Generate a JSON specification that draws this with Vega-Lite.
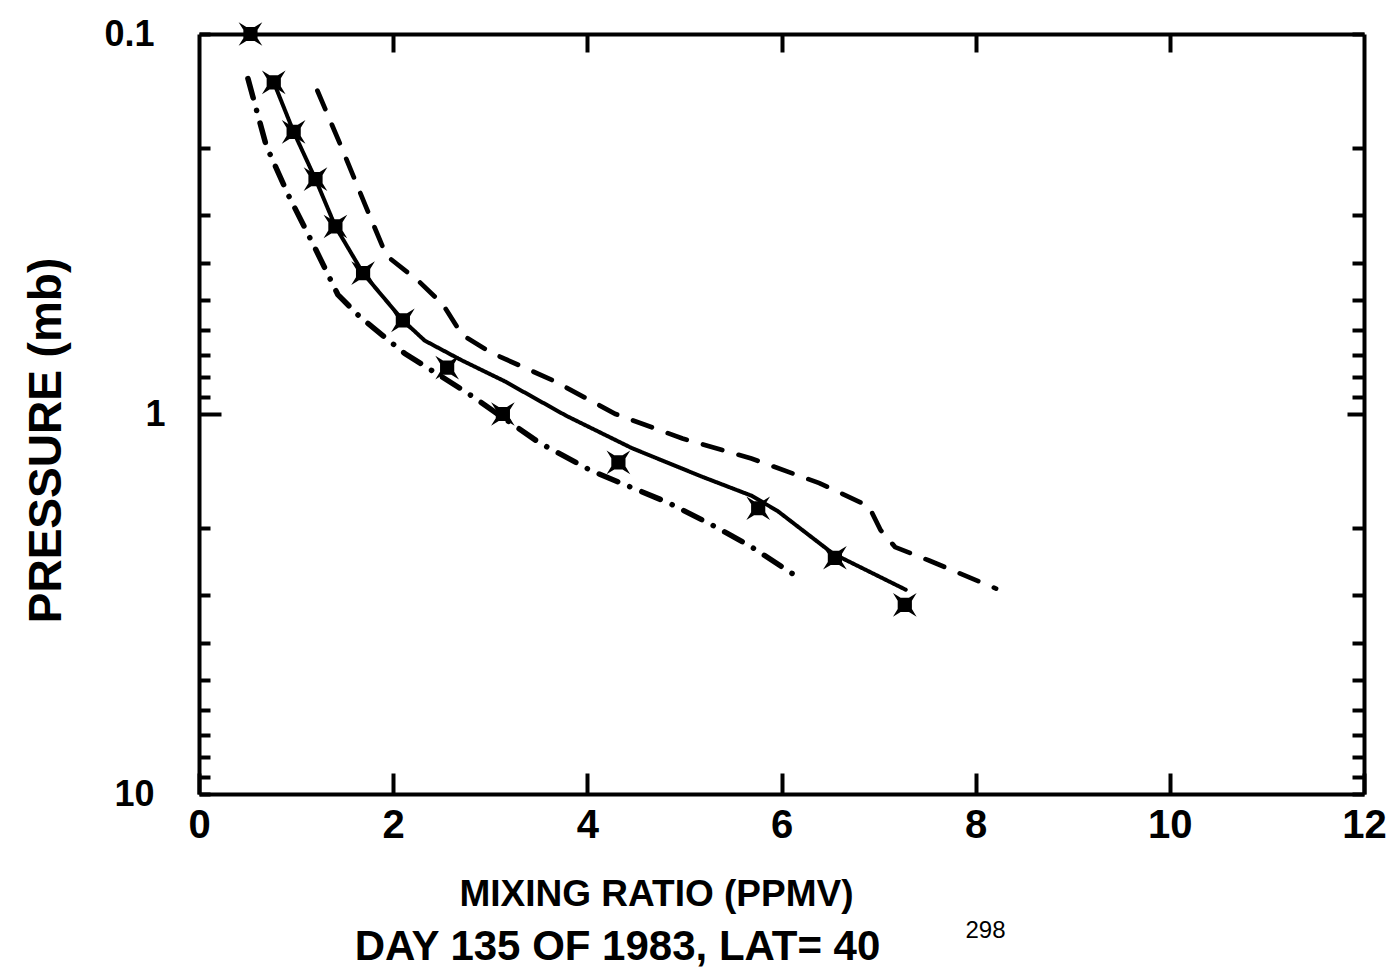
{
  "$schema": "https://vega.github.io/schema/vega-lite/v6.json",
  "width": 1165,
  "height": 760,
  "autosize": "none",
  "padding": {"left": 199, "top": 34, "right": 29, "bottom": 182},
  "background": "white",
  "datasets": {
    "lines": [
      {"s": "model", "i": 1, "x": 0.77, "p": 0.134},
      {"s": "model", "i": 2, "x": 0.975, "p": 0.181},
      {"s": "model", "i": 3, "x": 1.2, "p": 0.241},
      {"s": "model", "i": 4, "x": 1.405, "p": 0.321},
      {"s": "model", "i": 5, "x": 1.69, "p": 0.426},
      {"s": "model", "i": 6, "x": 2.1, "p": 0.567},
      {"s": "model", "i": 7, "x": 2.325, "p": 0.641},
      {"s": "model", "i": 8, "x": 2.7, "p": 0.721},
      {"s": "model", "i": 9, "x": 3.14, "p": 0.818},
      {"s": "model", "i": 10, "x": 3.78, "p": 1.01},
      {"s": "model", "i": 11, "x": 4.46, "p": 1.23},
      {"s": "model", "i": 12, "x": 5.175, "p": 1.46},
      {"s": "model", "i": 13, "x": 5.69, "p": 1.64},
      {"s": "model", "i": 14, "x": 5.96, "p": 1.8},
      {"s": "model", "i": 15, "x": 6.53, "p": 2.33},
      {"s": "model", "i": 16, "x": 7.28, "p": 2.9},
      {"s": "upper", "i": 1, "x": 1.22, "p": 0.141},
      {"s": "upper", "i": 2, "x": 1.476, "p": 0.201},
      {"s": "upper", "i": 3, "x": 1.72, "p": 0.285},
      {"s": "upper", "i": 4, "x": 1.93, "p": 0.383},
      {"s": "upper", "i": 5, "x": 2.27, "p": 0.449},
      {"s": "upper", "i": 6, "x": 2.51, "p": 0.514},
      {"s": "upper", "i": 7, "x": 2.71, "p": 0.619},
      {"s": "upper", "i": 8, "x": 3.01, "p": 0.69},
      {"s": "upper", "i": 9, "x": 3.65, "p": 0.817},
      {"s": "upper", "i": 10, "x": 4.29, "p": 1.0},
      {"s": "upper", "i": 11, "x": 4.98, "p": 1.16},
      {"s": "upper", "i": 12, "x": 5.69, "p": 1.31},
      {"s": "upper", "i": 13, "x": 6.39, "p": 1.52},
      {"s": "upper", "i": 14, "x": 6.9, "p": 1.75},
      {"s": "upper", "i": 15, "x": 7.02, "p": 2.02},
      {"s": "upper", "i": 16, "x": 7.17, "p": 2.24},
      {"s": "upper", "i": 17, "x": 7.52, "p": 2.43},
      {"s": "upper", "i": 18, "x": 8.21, "p": 2.88},
      {"s": "lower", "i": 1, "x": 0.504, "p": 0.131},
      {"s": "lower", "i": 2, "x": 0.693, "p": 0.197},
      {"s": "lower", "i": 3, "x": 0.919, "p": 0.265},
      {"s": "lower", "i": 4, "x": 1.184, "p": 0.361},
      {"s": "lower", "i": 5, "x": 1.43, "p": 0.485},
      {"s": "lower", "i": 6, "x": 1.66, "p": 0.556},
      {"s": "lower", "i": 7, "x": 2.12, "p": 0.693},
      {"s": "lower", "i": 8, "x": 2.755, "p": 0.877},
      {"s": "lower", "i": 9, "x": 3.505, "p": 1.19},
      {"s": "lower", "i": 10, "x": 4.04, "p": 1.41},
      {"s": "lower", "i": 11, "x": 4.83, "p": 1.71},
      {"s": "lower", "i": 12, "x": 5.27, "p": 1.95},
      {"s": "lower", "i": 13, "x": 5.67, "p": 2.22},
      {"s": "lower", "i": 14, "x": 6.18, "p": 2.7}
    ],
    "marks": [
      {"x": 0.53, "p": 0.1},
      {"x": 0.77, "p": 0.134},
      {"x": 0.975, "p": 0.181},
      {"x": 1.2, "p": 0.241},
      {"x": 1.405, "p": 0.321},
      {"x": 1.69, "p": 0.426},
      {"x": 2.1, "p": 0.567},
      {"x": 2.556, "p": 0.755},
      {"x": 3.13, "p": 1.0},
      {"x": 4.32, "p": 1.34},
      {"x": 5.76, "p": 1.77},
      {"x": 6.55, "p": 2.39},
      {"x": 7.27, "p": 3.18}
    ]
  },
  "config": {
    "view": {"stroke": null},
    "axis": {
      "grid": false,
      "domainColor": "black",
      "domainWidth": 4,
      "tickColor": "black",
      "tickWidth": 4,
      "labelColor": "black",
      "titleColor": "black",
      "labelFont": "Liberation Sans",
      "titleFont": "Liberation Sans",
      "labelFontWeight": "bold",
      "titleFontWeight": "bold",
      "labelOverlap": false,
      "labelFlush": false
    }
  },
  "layer": [
    {
      "data": {"name": "lines"},
      "mark": {"type": "line", "color": "black", "strokeCap": "round"},
      "encoding": {
        "x": {
          "field": "x", "type": "quantitative",
          "scale": {"domain": [0, 12], "nice": false, "zero": false},
          "axis": {
            "orient": "bottom",
            "values": [0, 2, 4, 6, 8, 10, 12],
            "tickSize": -21,
            "labelFontSize": 40,
            "labelPadding": 32,
            "title": "MIXING RATIO (PPMV)",
            "titleFontSize": 37,
            "titleX": 457,
            "titleY": 100,
            "titleAlign": "center",
            "titleBaseline": "middle"
          }
        },
        "y": {
          "field": "p", "type": "quantitative",
          "scale": {"type": "log", "domain": [0.1, 10], "reverse": true, "nice": false},
          "axis": {
            "orient": "left",
            "values": [0.1, 0.2, 0.3, 0.4, 0.5, 0.6, 0.7, 0.8, 0.9, 1, 2, 3, 4, 5, 6, 7, 8, 9, 10],
            "labelExpr": "datum.value == 0.1 ? '0.1' : (datum.value == 1 ? '1' : (datum.value == 10 ? '10' : ''))",
            "tickSize": {"condition": {"test": "datum.value == 1", "value": -22}, "value": -11},
            "labelFontSize": 36,
            "labelPadding": 56,
            "title": "PRESSURE (mb)",
            "titleFontSize": 46,
            "titleAngle": -90,
            "titleX": -153,
            "titleY": 406,
            "titleAlign": "center",
            "titleBaseline": "middle"
          }
        },
        "strokeDash": {
          "field": "s", "type": "nominal",
          "scale": {"domain": ["model", "upper", "lower"], "range": [[1, 0], [20, 17], [20, 13, 0.1, 13]]},
          "legend": null
        },
        "strokeWidth": {
          "field": "s", "type": "nominal",
          "scale": {"domain": ["model", "upper", "lower"], "range": [4, 5.5, 5.5]},
          "legend": null
        },
        "order": {"field": "i", "type": "quantitative"}
      }
    },
    {
      "data": {"name": "marks"},
      "mark": {
        "type": "point",
        "shape": "M-1,-1L-0.35,-0.6L0.35,-0.6L1,-1L0.6,-0.35L0.6,0.35L1,1L0.35,0.6L-0.35,0.6L-1,1L-0.6,0.35L-0.6,-0.35Z",
        "filled": true,
        "color": "black",
        "opacity": 1,
        "size": 560
      },
      "encoding": {
        "x": {
          "field": "x", "type": "quantitative",
          "axis": {
            "orient": "top",
            "values": [2, 4, 6, 8, 10],
            "labels": false,
            "tickSize": -18,
            "title": "DAY 135 OF 1983, LAT= 40",
            "titleFontSize": 42,
            "titleX": 418,
            "titleY": 912,
            "titleAlign": "center",
            "titleBaseline": "middle"
          }
        },
        "y": {
          "field": "p", "type": "quantitative",
          "axis": {
            "orient": "right",
            "values": [0.1, 0.2, 0.3, 0.4, 0.5, 0.6, 0.7, 0.8, 0.9, 1, 2, 3, 4, 5, 6, 7, 8, 9, 10],
            "labels": false,
            "tickSize": {"condition": {"test": "datum.value == 1", "value": -17}, "value": -12},
            "title": "298",
            "titleFontSize": 24,
            "titleFontWeight": "normal",
            "titleAngle": 0,
            "titleX": -379,
            "titleY": 896,
            "titleAlign": "center",
            "titleBaseline": "middle"
          }
        }
      }
    }
  ],
  "resolve": {"axis": {"x": "independent", "y": "independent"}}
}
